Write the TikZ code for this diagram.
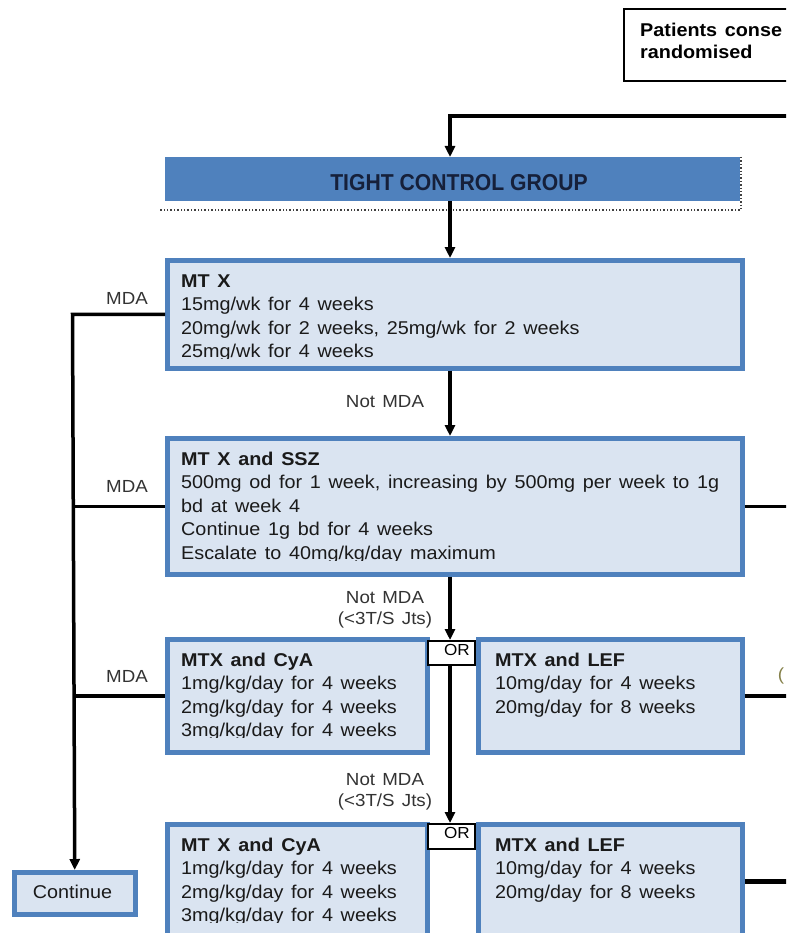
\documentclass[tikz,border=0pt]{standalone}
\usepackage{fontspec}
\setmainfont[FakeStretch=1.07,WordSpace=1.4]{Liberation Sans}
\newfontfamily\narrowfont[FakeStretch=0.92]{Liberation Sans}
\usetikzlibrary{arrows.meta}
\definecolor{boxfill}{HTML}{DAE4F1}
\definecolor{boxline}{HTML}{4F81BD}
\definecolor{tcgfill}{HTML}{4F81BD}
\definecolor{tcgtext}{HTML}{16203A}
\definecolor{txtcol}{HTML}{1A1A1A}
\definecolor{lblcol}{HTML}{333333}
\tikzset{
  rbox/.style={draw=boxline, line width=4.5pt, fill=boxfill, rectangle, inner sep=0pt, anchor=north west},
  orbox/.style={draw=black, line width=1.5pt, fill=white, rectangle, inner sep=0pt, anchor=north west},
  tl/.style={anchor=base west, inner sep=0pt, text=txtcol, font=\fontsize{18.5}{22}\selectfont},
  th/.style={tl, font=\fontsize{18.5}{22}\selectfont\bfseries},
  lbl/.style={anchor=center, inner sep=0pt, text=lblcol, font=\fontsize{17.5}{21}\selectfont},
  conn/.style={draw=black, line width=3.5pt},
  arr/.style={conn, -{Triangle[length=11pt,width=10pt]}},
}
\begin{document}
\begin{tikzpicture}[x=1pt,y=-1pt]
\useasboundingbox (0,0) rectangle (786,933);
\clip (0,0) rectangle (786,933);
\fill[white] (0,0) rectangle (786,933);

% top patients box
\node[draw=black, line width=2pt, fill=white, rectangle, inner sep=0pt, anchor=north west, minimum width=220pt, minimum height=72pt] (pat) at (623,8) {};
\node[th, text=black] (pat1) at (640,37) {Patients conse};
\node[th, text=black] (pat2) at (640,59) {randomised};

% tight control group
\node[fill=tcgfill, rectangle, inner sep=0pt, anchor=north west, minimum width=575pt, minimum height=44pt] (tcg) at (165,157) {};
\node[anchor=center, inner sep=0pt, text=tcgtext, font=\fontsize{23}{26}\narrowfont\bfseries] (tcgt) at (459,183) {TIGHT CONTROL GROUP};
\draw[draw=black!75, line width=1.4pt, dotted] (741,157) -- (741,210) -- (160,210);

% boxes
\node[rbox, minimum width=575pt, minimum height=108pt] (mtx) at (165,258) {};
\node[rbox, minimum width=575pt, minimum height=136pt] (ssz) at (165,436) {};
\node[rbox, minimum width=260pt, minimum height=113pt] (cya1) at (165,637) {};
\node[rbox, minimum width=264pt, minimum height=113pt] (lef1) at (476,637) {};
\node[rbox, minimum width=260pt, minimum height=114pt] (cya2) at (165,822) {};
\node[rbox, minimum width=264pt, minimum height=114pt] (lef2) at (476,822) {};
\node[rbox, minimum width=121pt, minimum height=42pt] (cont) at (12,870) {};
\node[tl, anchor=center] (contt) at (72.5,892) {Continue};

% OR boxes
\node[orbox, minimum width=47pt, minimum height=24pt] (or1) at (427,640) {};
\node[lbl, text=black, font=\fontsize{16}{18}\selectfont] (or1t) at (457,650) {OR};
\node[orbox, minimum width=47pt, minimum height=25pt] (or2) at (427,823) {};
\node[lbl, text=black, font=\fontsize{16}{18}\selectfont] (or2t) at (457,833) {OR};

% box texts
\begin{scope}
\clip (165,258) rectangle (740,358.5);
\node[th] (m0) at (181,287) {MT X};
\node[tl] (m1) at (181,310.5) {15mg/wk for 4 weeks};
\node[tl] (m2) at (181,334) {20mg/wk for 2 weeks, 25mg/wk for 2 weeks};
\node[tl] (m3) at (181,357.5) {25mg/wk for 4 weeks};
\end{scope}
\begin{scope}
\clip (165,436) rectangle (740,560);
\node[th] (s0) at (181,465) {MT X and SSZ};
\node[tl] (s1) at (181,488.5) {500mg od for 1 week, increasing by 500mg per week to 1g};
\node[tl] (s2) at (181,512) {bd at week 4};
\node[tl] (s3) at (181,535.5) {Continue 1g bd for 4 weeks};
\node[tl] (s4) at (181,559) {Escalate to 40mg/kg/day maximum};
\end{scope}
\begin{scope}
\clip (165,637) rectangle (425,737.5);
\node[th] (c0) at (181,666) {MTX and CyA};
\node[tl] (c1) at (181,689.5) {1mg/kg/day for 4 weeks};
\node[tl] (c2) at (181,713) {2mg/kg/day for 4 weeks};
\node[tl] (c3) at (181,736.5) {3mg/kg/day for 4 weeks};
\end{scope}
\node[th] (l0) at (495,666) {MTX and LEF};
\node[tl] (l1) at (495,689.5) {10mg/day for 4 weeks};
\node[tl] (l2) at (495,713) {20mg/day for 8 weeks};
\begin{scope}
\clip (165,822) rectangle (425,922.5);
\node[th] (d0) at (181,851) {MT X and CyA};
\node[tl] (d1) at (181,874.5) {1mg/kg/day for 4 weeks};
\node[tl] (d2) at (181,898) {2mg/kg/day for 4 weeks};
\node[tl] (d3) at (181,921.5) {3mg/kg/day for 4 weeks};
\end{scope}
\node[th] (e0) at (495,851) {MTX and LEF};
\node[tl] (e1) at (495,874.5) {10mg/day for 4 weeks};
\node[tl] (e2) at (495,898) {20mg/day for 8 weeks};

% labels
\node[lbl] (mda1) at (127,298) {MDA};
\node[lbl] (mda2) at (127,486) {MDA};
\node[lbl] (mda3) at (127,676) {MDA};
\node[lbl] (nm1) at (385,402) {Not MDA};
\node[lbl] (nm2) at (385,598) {Not MDA};
\node[lbl] (jt2) at (385,620) {(<3T/S Jts)};
\node[lbl] (nm3) at (385,780) {Not MDA};
\node[lbl] (jt3) at (385,802) {(<3T/S Jts)};
\node[lbl, text=black!55!yellow] (paren) at (781,676) {(};

% connectors
\coordinate (col) at (450,0);
\coordinate (spine) at (72.5,0);
\coordinate (inR) at (800,116);
\coordinate (outR) at (800,0);

\draw[arr] (inR) -| (tcg.north -| col);
\draw[arr] (tcg.south -| col) -- (mtx.north -| col);
\draw[arr] (mtx.south -| col) -- (ssz.north -| col);
\draw[arr] (ssz.south -| col) -- (or1.north -| col);
\draw[arr] (or1.south -| col) -- (or2.north -| col);
\draw[arr] (mtx.west) -- (mtx.west -| spine) -- (cont.north);
\draw[conn] (ssz.west) -- (ssz.west -| spine);
\draw[conn, line width=4.5pt] (cya1.west) -- (cya1.west -| spine);
\draw[conn] (ssz.east) -- (ssz.east -| outR);
\draw[conn, line width=4.5pt] (lef1.east) -- (lef1.east -| outR);
\draw[conn, line width=4.5pt] (lef2.east) -- (lef2.east -| outR);
\end{tikzpicture}
\end{document}
